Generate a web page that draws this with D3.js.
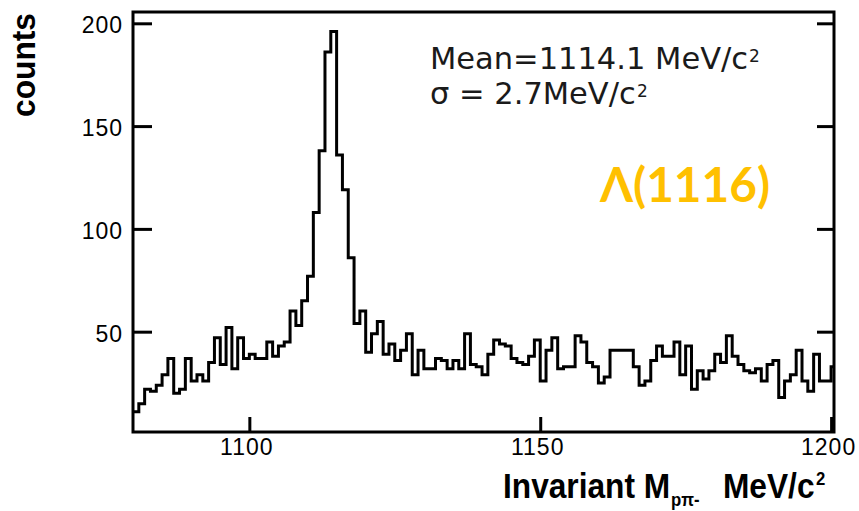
<!DOCTYPE html>
<html>
<head>
<meta charset="utf-8">
<script src="https://cdn.jsdelivr.net/npm/d3@7"></script>
<style>
  html, body { margin: 0; padding: 0; background: #fff; }
  svg { display: block; }
</style>
</head>
<body>
<svg id="chart" width="859" height="511"></svg>
<script>
// ---- data ----
const binStart = 1080;      // MeV/c^2, left edge of first bin
const binWidth = 1;         // MeV/c^2
const counts = [
  11, 15, 22, 21, 24, 29, 37, 20, 22, 37,
  26, 29, 26, 35, 47, 34, 52, 32, 47, 37,
  39, 37, 37, 45, 38, 43, 45, 60, 53, 65,
  77, 108, 138, 186, 196, 136, 119, 86, 54, 60,
  40, 49, 55, 39, 44, 36, 41, 49, 29, 41,
  32, 32, 37, 36, 32, 36, 32, 49, 34, 33,
  29, 39, 46, 44, 43, 37, 35, 34, 38, 46,
  26, 41, 47, 32, 33, 33, 48, 45, 35, 33,
  25, 28, 41, 41, 41, 41, 33, 24, 26, 36,
  43, 38, 38, 45, 29, 43, 22, 31, 27, 31,
  39, 35, 48, 38, 34, 31, 30, 32, 26, 34,
  36, 18, 26, 29, 41, 26, 21, 39, 26, 26,
  33
];
const xTicks = [1100, 1150, 1200];
const yTicks = [50, 100, 150, 200];
const xDomain = [1080, 1200.5];
const yDomain = [1.2, 205.5];
const meanText = "Mean=1114.1 MeV/c";
const sigmaText = "σ = 2.7MeV/c";
const particleText = "Λ(1116)";

// ---- layout ----
const L = 133, R = 834, T = 12, B = 432;
const svg = d3.select("#chart");

const x = d3.scaleLinear().domain(xDomain).range([L, R]);
const y = d3.scaleLinear().domain(yDomain).range([B, T]);

svg.append("defs").append("clipPath").attr("id", "plotclip")
  .append("rect").attr("x", L).attr("y", T).attr("width", R - L).attr("height", B - T);

// histogram step line
const pts = counts.map((c, i) => [binStart + i * binWidth, c]);
pts.push([binStart + counts.length * binWidth, counts[counts.length - 1]]);
const line = d3.line().x(d => x(d[0])).y(d => y(d[1])).curve(d3.curveStepAfter);
svg.append("path")
  .attr("clip-path", "url(#plotclip)")
  .attr("d", line(pts))
  .attr("fill", "none")
  .attr("stroke", "#000")
  .attr("stroke-width", 3)
  .attr("stroke-linejoin", "miter")
  .attr("stroke-linecap", "square");

const tickFont = "'Liberation Sans', Arial, Helvetica, sans-serif";

// left axis
const gl = svg.append("g").attr("transform", `translate(${L},0)`)
  .call(d3.axisLeft(y).tickValues(yTicks).tickSize(-19).tickPadding(10).tickFormat(d3.format("d")));
gl.select(".domain").remove();
gl.selectAll(".tick line").attr("stroke", "#000").attr("stroke-width", 3);
gl.selectAll(".tick text").attr("font-family", tickFont).attr("font-size", 23)
  .attr("fill", "#000").attr("dy", "0.42em").attr("letter-spacing", 1);

// right axis (ticks only)
const gr = svg.append("g").attr("transform", `translate(${R},0)`)
  .call(d3.axisRight(y).tickValues(yTicks).tickSize(-17).tickFormat(""));
gr.select(".domain").remove();
gr.selectAll(".tick line").attr("stroke", "#000").attr("stroke-width", 3);

// bottom axis
const gb = svg.append("g").attr("transform", `translate(0,${B})`)
  .call(d3.axisBottom(x).tickValues(xTicks).tickSize(-15).tickPadding(7).tickFormat(d3.format("d")));
gb.select(".domain").remove();
gb.selectAll(".tick line").attr("stroke", "#000").attr("stroke-width", 3);
gb.selectAll(".tick text").attr("font-family", tickFont).attr("font-size", 23)
  .attr("fill", "#000").attr("letter-spacing", 1).attr("dx", -3);

// frame
svg.append("rect").attr("x", L).attr("y", T).attr("width", R - L).attr("height", B - T)
  .attr("fill", "none").attr("stroke", "#000").attr("stroke-width", 3);

// x-axis title: one text element, horizontally condensed
const boldFont = "'Liberation Sans', Arial, sans-serif";
const sx = 0.88, tx0 = 503;
const xt = svg.append("text")
  .attr("transform", `translate(${tx0},498) scale(${sx},1)`)
  .attr("font-family", boldFont).attr("font-weight", "bold").attr("font-size", 36).attr("fill", "#000");
xt.append("tspan").attr("x", 0).attr("y", 0).text("Invariant M");
xt.append("tspan").attr("x", (671 - tx0) / sx).attr("y", 8).attr("font-size", 19).text("pπ-");
xt.append("tspan").attr("x", (723 - tx0) / sx).attr("y", 0).text("MeV/c");
xt.append("tspan").attr("x", (816 - tx0) / sx).attr("y", -13).attr("font-size", 19).text("2");

// y-axis title
svg.append("text")
  .attr("transform", "translate(35,117) rotate(-90)")
  .attr("x", 0).attr("y", 0)
  .text("counts")
  .attr("font-family", boldFont).attr("font-size", 34).attr("font-weight", "bold")
  .attr("textLength", 104).attr("lengthAdjust", "spacingAndGlyphs");

// annotations
const annFont = "'DejaVu Sans', 'Noto Sans', sans-serif";
const m = svg.append("text").attr("font-family", annFont).attr("font-size", 30.5).attr("fill", "#1a1a1a");
m.append("tspan").attr("x", 430).attr("y", 69).text(meanText);
m.append("tspan").attr("x", 749).attr("y", 62).attr("font-size", 17).text("2");
const s = svg.append("text").attr("font-family", annFont).attr("font-size", 30.5).attr("fill", "#1a1a1a");
s.append("tspan").attr("x", 430).attr("y", 104).text(sigmaText);
s.append("tspan").attr("x", 637).attr("y", 97).attr("font-size", 17).text("2");

svg.append("text").attr("x", 600).attr("y", 202).text(particleText)
  .attr("font-family", "Lato, 'Open Sans', sans-serif").attr("font-size", 47)
  .attr("font-weight", "bold").attr("fill", "#FFC000")
  .attr("textLength", 170).attr("lengthAdjust", "spacingAndGlyphs");
</script>
</body>
</html>
